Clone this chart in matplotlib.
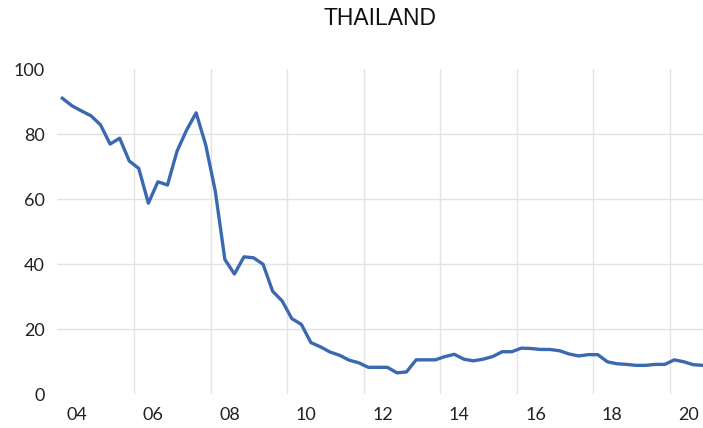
import numpy as np
import matplotlib
matplotlib.use("Agg")
import matplotlib.pyplot as plt

# quarterly values (first point ~ late 2003)
valeurs = [91.1, 88.8, 87.2, 85.7, 82.9, 77.0, 78.8, 71.8,
           69.5, 58.8, 65.4, 64.4, 74.8, 81.3, 86.6, 76.7,
           62.5, 41.5, 37.0, 42.3, 42.0, 40.0, 31.7, 28.7,
           23.3, 21.5, 15.9, 14.6, 13.0, 12.0, 10.5, 9.7,
           8.3, 8.3, 8.3, 6.6, 6.9, 10.6, 10.6, 10.6,
           11.6, 12.3, 10.8, 10.3, 10.8, 11.6, 13.1, 13.1,
           14.2, 14.1, 13.8, 13.8, 13.4, 12.4, 11.8, 12.2,
           12.2, 10.0, 9.4, 9.2, 8.9, 8.9, 9.2, 9.2,
           10.6, 10.0, 9.1, 8.9]
annees = ["04", "06", "08", "10", "12", "14", "16", "18", "20"]
yticks = [0, 20, 40, 60, 80, 100]

x = np.arange(len(valeurs))

fig = plt.figure(figsize=(7.03, 4.28), dpi=100)
ax = fig.add_axes([57.5 / 703, 33.7 / 428, (703 - 57.5) / 703, 325 / 428])

grille = "#e3e3e3"
for y in yticks[1:-1]:
    ax.axhline(y, color=grille, lw=1, zorder=0)
for k in range(len(annees) - 1):
    ax.axvline(7.5 + 8 * k, color=grille, lw=1, zorder=0)

ax.plot(x, valeurs, color="#3B69B1", lw=2.4, solid_joinstyle="round", zorder=3)

ax.set_xlim(-0.5, len(valeurs) - 1)
ax.set_ylim(0, 100)
ax.set_yticks(yticks)
ax.set_yticklabels([str(v) for v in yticks])
ax.set_xticks([1.5 + 8 * k for k in range(len(annees))])
ax.set_xticklabels(annees)
ax.tick_params(length=0, labelsize=13, colors="#222222")
ax.tick_params(axis="y", pad=9)
ax.tick_params(axis="x", pad=9)
for lab in ax.get_xticklabels() + ax.get_yticklabels():
    lab.set_family(["Lato", "DejaVu Sans"])
for s in ax.spines.values():
    s.set_visible(False)

fig.text((57.5 + 703) / 2 / 703, (428 - 25) / 428, "THAILAND", ha="center", va="baseline",
         fontsize=16.5, color="#111111", family=["Liberation Sans", "DejaVu Sans"])

fig.savefig("out.png", dpi=100)
